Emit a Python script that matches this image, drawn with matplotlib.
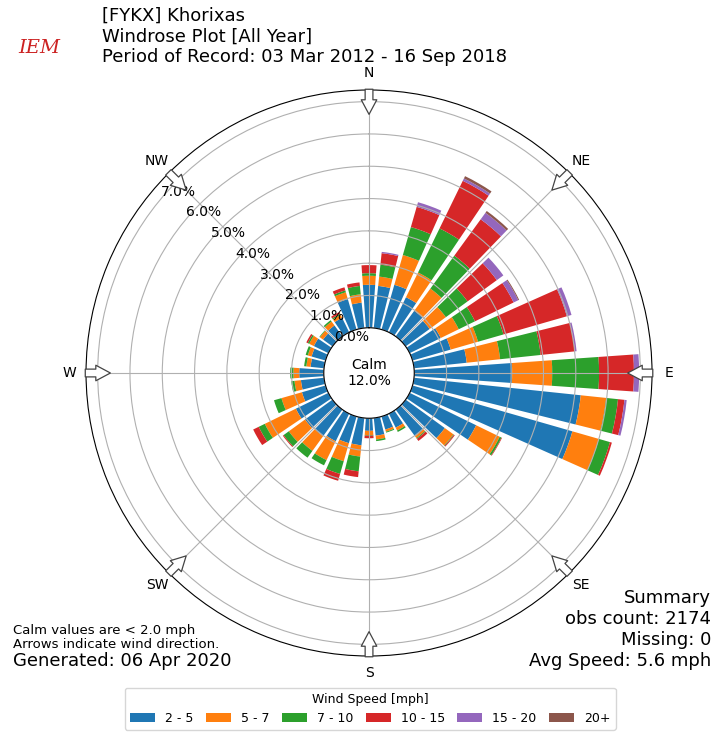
import numpy as np
import matplotlib
matplotlib.use("Agg")
import matplotlib.pyplot as plt

# direction bins (degrees, 10 deg apart) and percent of obs per speed bin
directions = np.arange(0, 360, 10)
speed_bins = ["2 - 5", "5 - 7", "7 - 10", "10 - 15", "15 - 20", "20+"]
colors = ["#1f77b4", "#ff7f0e", "#2ca02c", "#d62728", "#9467bd", "#8c564b"]

pct_2_5 = [1.33, 1.31, 1.44, 1.21, 0.98, 0.92, 1.07, 1.23, 1.64, 3.03, 5.19, 5.15,
           2.29, 1.50, 1.02, 0.48, 0.42, 0.55, 0.39, 0.85, 0.86, 0.95, 1.02, 1.05,
           1.12, 0.76, 0.72, 0.76, 0.42, 0.45, 0.50, 0.36, 0.42, 0.50, 0.98, 0.79]
pct_5_7 = [0.28, 0.29, 0.96, 0.85, 0.85, 0.62, 0.62, 0.88, 1.04, 1.24, 0.79, 0.85,
           0.81, 0.33, 0.07, 0.10, 0.07, 0.12, 0.13, 0.35, 0.58, 0.65, 0.56, 0.62,
           1.07, 0.66, 0.20, 0.18, 0.13, 0.12, 0.16, 0.12, 0.15, 0.10, 0.22, 0.26]
pct_7_10 = [0.08, 0.37, 0.90, 1.52, 1.26, 0.83, 0.56, 0.82, 1.26, 1.45, 0.37, 0.36,
            0.06, 0.02, 0.03, 0.05, 0.03, 0.05, 0.02, 0.46, 0.41, 0.18, 0.26, 0.20,
            0.21, 0.24, 0.10, 0.10, 0.07, 0.07, 0.05, 0.02, 0.05, 0.04, 0.06, 0.26]
pct_10_15 = [0.25, 0.36, 0.65, 1.64, 1.39, 1.12, 1.33, 2.04, 1.07, 1.08, 0.20, 0.06,
             0.02, 0.03, 0.08, 0.00, 0.00, 0.00, 0.08, 0.18, 0.22, 0.00, 0.00, 0.03,
             0.19, 0.00, 0.00, 0.00, 0.00, 0.00, 0.05, 0.00, 0.00, 0.06, 0.10, 0.11]
pct_15_20 = [0.00, 0.04, 0.15, 0.08, 0.25, 0.25, 0.16, 0.15, 0.05, 0.16, 0.07, 0.00,
             0.00, 0.00, 0.00, 0.00, 0.00, 0.00, 0.00, 0.00, 0.00, 0.00, 0.00, 0.00,
             0.00, 0.00, 0.00, 0.00, 0.00, 0.00, 0.00, 0.00, 0.00, 0.00, 0.00, 0.00]
pct_20 = [0.00, 0.00, 0.00, 0.08, 0.07, 0.00, 0.03, 0.00, 0.00, 0.00, 0.00, 0.00,
          0.00, 0.00, 0.00, 0.00, 0.00, 0.00, 0.00, 0.00, 0.00, 0.00, 0.00, 0.00,
          0.00, 0.00, 0.00, 0.00, 0.00, 0.00, 0.00, 0.00, 0.00, 0.00, 0.00, 0.00]

calm_pct = 12.0
rticks = [0, 1, 2, 3, 4, 5, 6, 7]
compass = ["N", "NE", "E", "SE", "S", "SW", "W", "NW"]

fig = plt.figure(figsize=(7.12, 7.36), dpi=100)
ax = fig.add_axes([0.1208, 0.1087, 0.795, 0.769], projection="polar")
ax.set_theta_zero_location("N")
ax.set_theta_direction(-1)
ax.set_rorigin(-1.40)
ax.set_ylim(0, 7.36)

theta = np.deg2rad(directions)
width = np.deg2rad(10) * 0.8
bottom = np.zeros(len(directions))
series = [pct_2_5, pct_5_7, pct_7_10, pct_10_15, pct_15_20, pct_20]
for vals, label, c in zip(series, speed_bins, colors):
    vals = np.array(vals)
    ax.bar(theta, vals, width=width, bottom=bottom, color=c, label=label,
           linewidth=0)
    bottom = bottom + vals

# radial labels
ax.set_yticks(rticks)
ax.set_yticklabels(["%.1f%%" % t for t in rticks], fontsize=10)
ax.set_rlabel_position(310)

# compass labels
ax.set_xticks(np.deg2rad(np.arange(0, 360, 45)))
ax.set_xticklabels(compass, fontsize=10)
ax.tick_params(axis="x", pad=1.5)

# arrows pointing inward at each compass direction
for d in np.arange(0, 360, 45):
    ax.annotate("", xy=(np.deg2rad(d), 6.52), xytext=(np.deg2rad(d), 7.47),
                arrowprops=dict(arrowstyle="simple,head_length=0.75,head_width=0.8,tail_width=0.4",
                                mutation_scale=14, fc="white", ec="#444444", lw=0.9),
                annotation_clip=False, zorder=5)

ax.text(0, -1.40, "Calm\n%.1f%%" % calm_pct, ha="center", va="center",
        fontsize=10)

# header
fig.text(0.143, 0.991, "[FYKX] Khorixas\nWindrose Plot [All Year]\n"
         "Period of Record: 03 Mar 2012 - 16 Sep 2018",
         ha="left", va="top", fontsize=13)
fig.text(0.055, 0.935, "IEM", color="#cc2222", fontsize=14, style="italic",
         family="serif", ha="center", va="center")

# footer text
fig.text(0.018, 0.152, "Calm values are < 2.0 mph\nArrows indicate wind direction.",
         ha="left", va="top", fontsize=9.5, linespacing=1.1)
fig.text(0.018, 0.09, "Generated: 06 Apr 2020", ha="left", va="bottom",
         fontsize=13)
fig.text(0.9985, 0.09, "Summary\nobs count: 2174\nMissing: 0\nAvg Speed: 5.6 mph",
         ha="right", va="bottom", fontsize=13)

leg = fig.legend(loc="lower center", bbox_to_anchor=(0.52, 0.0), ncol=6,
                 title="Wind Speed [mph]", fontsize=9, title_fontsize=9,
                 columnspacing=1.0)

fig.savefig("out.png", dpi=100)
